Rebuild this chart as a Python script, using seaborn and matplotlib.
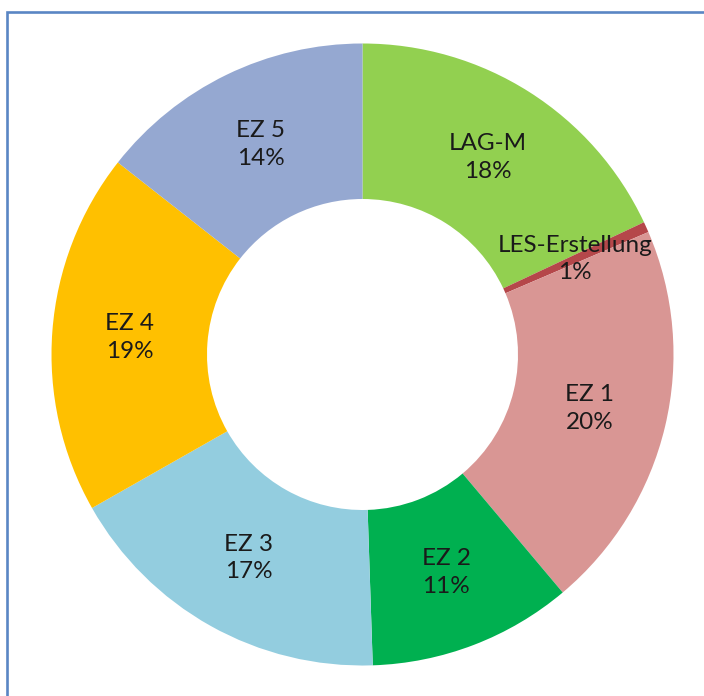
import matplotlib
matplotlib.use("Agg")
import matplotlib.pyplot as plt
import seaborn as sns
from matplotlib.patches import Rectangle

# Daten (Anteile in %)
labels = ["LAG-M", "LES-Erstellung", "EZ 1", "EZ 2", "EZ 3", "EZ 4", "EZ 5"]
values = [18.0, 0.55, 20.3, 10.6, 17.3, 18.8, 14.4]
colors = ["#92D050", "#B5474A", "#D99694", "#00B050", "#93CDDF", "#FFC000", "#95A8D1"]

sns.set_theme(style="white")
plt.rcParams["font.family"] = ["Lato", "DejaVu Sans"]

fig = plt.figure(figsize=(7.04, 6.96), dpi=100)
fig.patch.set_facecolor("white")

# Rahmen wie im Excel-Diagramm
fig.patches.append(Rectangle((7.5 / 704, -0.2), 1.2, 1.2 - 11.5 / 696,
                             transform=fig.transFigure, fill=False,
                             edgecolor="#5A86C4", linewidth=1.9))

# Achse so platzieren, dass der Ring bei (362, 355) px liegt
cx, cy, r = 362.5, 354.5, 311
ax = fig.add_axes([(cx - r) / 704, (696 - cy - r) / 696, 2 * r / 704, 2 * r / 696])

wedges, texts, autotexts = ax.pie(
    values, colors=colors, startangle=90, counterclock=False,
    radius=1.0, autopct="%1.0f%%", pctdistance=0.75,
    wedgeprops=dict(width=0.5, linewidth=0),
    textprops=dict(fontsize=17.5, color="#1a1a1a", linespacing=1.4),
)
for t, lab in zip(autotexts, labels):
    t.set_text(f"{lab}\n{t.get_text()}")
    t.set_ha("center")
    t.set_va("center")

ax.set_xlim(-1, 1)
ax.set_ylim(-1, 1)
ax.set_aspect("equal")
ax.axis("off")

fig.savefig("out.png", dpi=100, facecolor="white")
